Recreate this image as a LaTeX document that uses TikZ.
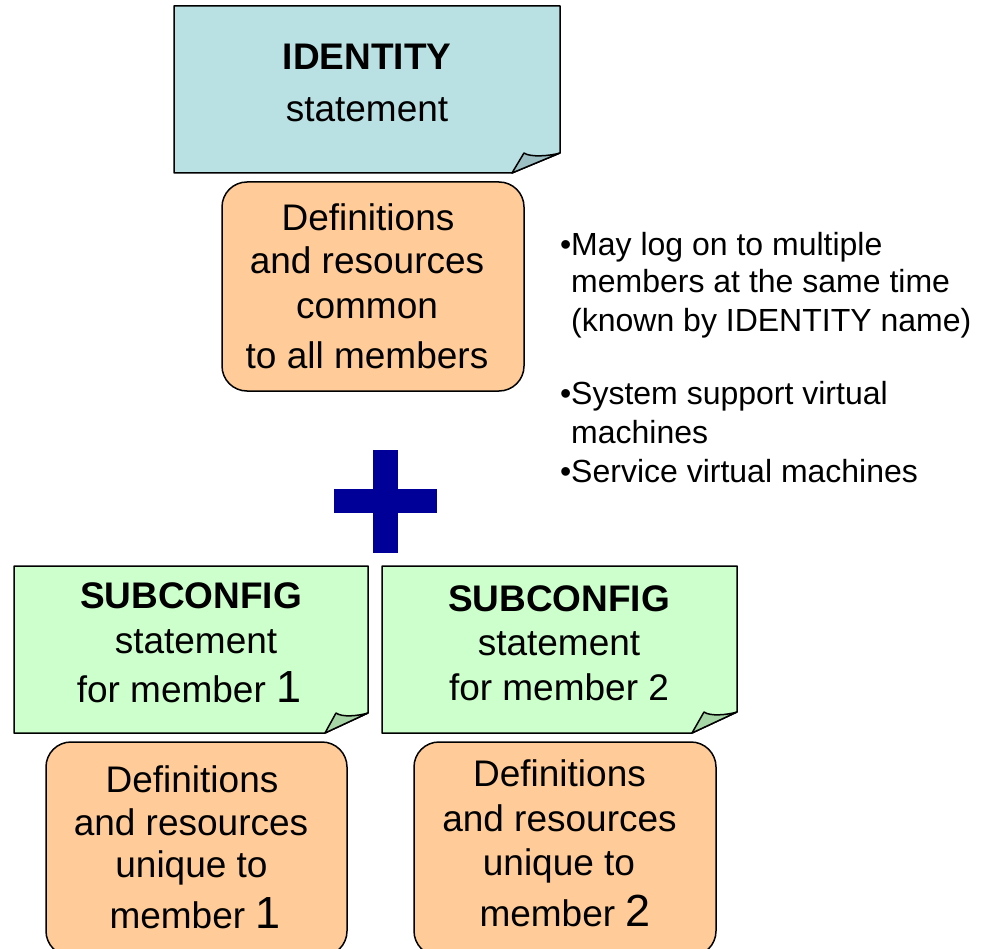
\documentclass[tikz,border=0pt]{standalone}
\usepackage{fontspec}
\setmainfont{Liberation Sans}
\definecolor{idfill}{HTML}{B9E0E3}
\definecolor{idfold}{HTML}{9BBFC3}
\definecolor{subfill}{HTML}{CCFFCC}
\definecolor{subfold}{HTML}{A6D6A6}
\definecolor{defill}{HTML}{FFCC99}
\definecolor{plusblue}{HTML}{000099}
\newcommand\mybul{\makebox[11pt][l]{•}}
\newcommand\myind{\hspace*{11pt}}
\newcommand\bignum[1]{{\fontsize{45}{45}\selectfont #1}}
\begin{document}
\begin{tikzpicture}[x=1pt,y=-1pt,
  txt/.style={font=\fontsize{37}{40}\selectfont, inner sep=0pt, anchor=base},
  btxt/.style={font=\fontsize{37}{40}\selectfont\bfseries, inner sep=0pt, anchor=base},
  note/.style={font=\fontsize{32}{36}\selectfont, inner sep=0pt, anchor=base west},
  outline/.style={draw=black, line width=1.5pt, line join=round},
  rbox/.style={outline, fill=defill, rounded corners=25pt, inner sep=0pt}]
\useasboundingbox (0,0) rectangle (987,949);

% IDENTITY note
\draw[outline, fill=idfill] (174,6) -- (560,6) -- (560,153) -- (512,173) -- (174,173) -- cycle;
\draw[outline, fill=idfold] (512,173) -- (524,153) .. controls (530,157.5) and (550,156) .. (560,153) -- cycle;
\node[btxt] (idt) at (367,70) {IDENTITY};
\node[txt] (ids) at (367,122) {statement};

% common definitions
\node[rbox, minimum width=302pt, minimum height=209pt] (common) at (373,286.5) {};
\node[txt] (c1) at (368,231) {Definitions};
\node[txt] (c2) at (367,274) {and resources};
\node[txt] (c3) at (367,319) {common};
\node[txt] (c4) at (367,368) {to all members};

% notes
\node[note] (n1) at (560,256) {\mybul May log on to multiple};
\node[note] (n2) at (560,293) {\myind members at the same time};
\node[note] (n3) at (560,331) {\myind(known by IDENTITY name)};
\node[note] (n4) at (560,404) {\mybul System support virtual};
\node[note] (n5) at (560,443) {\myind machines};
\node[note] (n6) at (560,482) {\mybul Service virtual machines};

% plus
\fill[plusblue] (373,450) rectangle (398,553);
\fill[plusblue] (334,489) rectangle (437,513);

% SUBCONFIG 1
\draw[outline, fill=subfill] (14,566) -- (368,566) -- (368,713) -- (325,733) -- (14,733) -- cycle;
\draw[outline, fill=subfold] (325,733) -- (336,713) .. controls (342,717.5) and (358,716) .. (368,713) -- cycle;
\node[btxt] (s1a) at (191,608) {SUBCONFIG};
\node[txt] (s1b) at (196,653) {statement};
\node[txt] (s1c) at (189,702) {for member \bignum{1}};

% SUBCONFIG 2
\draw[outline, fill=subfill] (382,566) -- (737,566) -- (737,712) -- (692,733) -- (382,733) -- cycle;
\draw[outline, fill=subfold] (692,733) -- (704,712) .. controls (710,716.5) and (727,715) .. (737,712) -- cycle;
\node[btxt] (s2a) at (559,611) {SUBCONFIG};
\node[txt] (s2b) at (559,655) {statement};
\node[txt] (s2c) at (559,700) {for member 2};

% unique definitions
\node[rbox, minimum width=301pt, minimum height=214pt] (u1) at (196.5,849) {};
\node[txt] (u1a) at (192,792) {Definitions};
\node[txt] (u1b) at (191,835) {and resources};
\node[txt] (u1c) at (191.5,877) {unique to};
\node[txt] (u1d) at (195,928) {member \bignum{1}};

\node[rbox, minimum width=302pt, minimum height=214pt] (u2) at (565,849) {};
\node[txt] (u2a) at (559.5,786) {Definitions};
\node[txt] (u2b) at (559.5,831) {and resources};
\node[txt] (u2c) at (559,875) {unique to};
\node[txt] (u2d) at (565,926) {member \bignum{2}};
\end{tikzpicture}
\end{document}
